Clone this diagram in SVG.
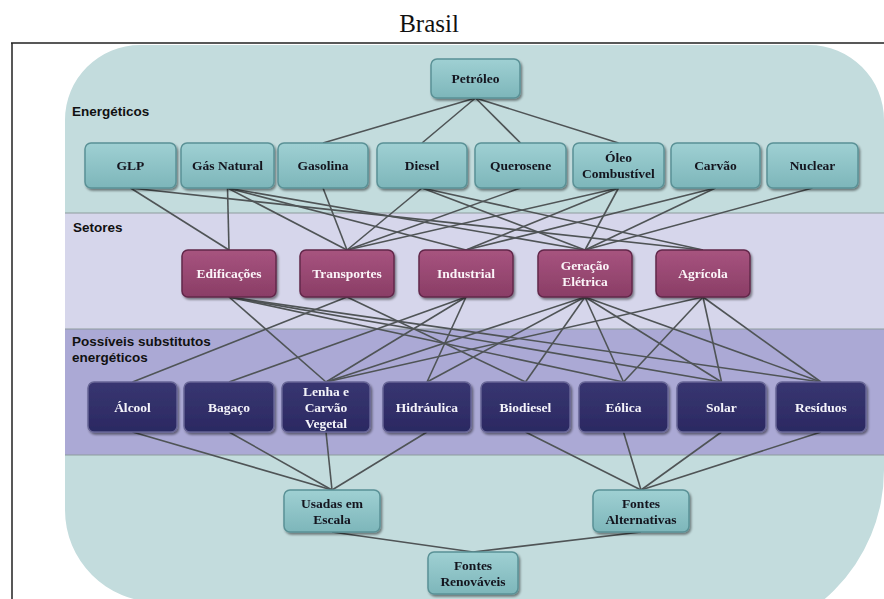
<svg xmlns="http://www.w3.org/2000/svg" width="884" height="599" viewBox="0 0 884 599">
<style>
.title{font-family:"Liberation Serif","Times New Roman",serif;font-size:25px;fill:#111}
.sec{font-family:"Liberation Sans",Arial,sans-serif;font-weight:bold;font-size:13.5px;fill:#111}
.lbl{font-family:"Liberation Serif","Times New Roman",serif;font-weight:bold;font-size:13.5px;text-anchor:middle}
.t rect{fill:url(#gT);stroke:#5a9196;stroke-width:1.5}
.t text{fill:#12131f}
.p rect{fill:url(#gP);stroke:#62284a;stroke-width:1.5}
.p text{fill:#fbf4f8}
.n rect{fill:url(#gN);stroke:#676696;stroke-width:1.5}
.n text{fill:#f4f4fa}
.node{filter:url(#sh)}
#connectors line{stroke:#4f5456;stroke-width:1.6}
</style>
<defs>
<linearGradient id="gT" x1="0" y1="0" x2="0" y2="1"><stop offset="0" stop-color="#9fd0d3"/><stop offset="1" stop-color="#7db6ba"/></linearGradient>
<linearGradient id="gP" x1="0" y1="0" x2="0" y2="1"><stop offset="0" stop-color="#a7547f"/><stop offset="1" stop-color="#8a3d66"/></linearGradient>
<linearGradient id="gN" x1="0" y1="0" x2="0" y2="1"><stop offset="0" stop-color="#383671"/><stop offset="1" stop-color="#2b2962"/></linearGradient>
<filter id="sh" x="-10%" y="-20%" width="130%" height="150%"><feDropShadow dx="1.5" dy="2" stdDeviation="1.2" flood-color="#000" flood-opacity="0.45"/></filter>
</defs>
<rect width="884" height="599" fill="#ffffff"/>
<text class="title" x="429" y="32" text-anchor="middle">Brasil</text>
<path d="M11,43 H884 M12,43 V599" fill="none" stroke="#222" stroke-width="1.5"/>
<path d="M65,120 A75,75 0 0 1 140,45 L809,45 A75,75 0 0 1 884,120 L884,470 A170,170 0 0 1 714,640 L157,640 L157,602 A92,92 0 0 1 65,510 Z" fill="#c3dcdd"/>
<rect x="65" y="213" width="819" height="116" fill="#d6d6eb"/>
<rect x="65" y="329" width="819" height="126" fill="#aba9d5"/>
<path d="M65,213 H884 M65,329 H884 M65,455 H884" stroke="#8d9b9d" stroke-width="1.2"/>
<text class="sec" x="72" y="116">Energéticos</text>
<text class="sec" x="73" y="232">Setores</text>
<text class="sec" x="72" y="346">Possíveis substitutos</text>
<text class="sec" x="72" y="362">energéticos</text>
<g id="connectors">
<line x1="475.5" y1="98" x2="323" y2="143"/>
<line x1="475.5" y1="98" x2="422" y2="143"/>
<line x1="475.5" y1="98" x2="520.5" y2="143"/>
<line x1="475.5" y1="98" x2="618.5" y2="143"/>
<line x1="130.5" y1="188" x2="229" y2="250"/>
<line x1="130.5" y1="188" x2="703" y2="250"/>
<line x1="227.5" y1="188" x2="229" y2="250"/>
<line x1="227.5" y1="188" x2="347" y2="250"/>
<line x1="227.5" y1="188" x2="466" y2="250"/>
<line x1="227.5" y1="188" x2="585" y2="250"/>
<line x1="323" y1="188" x2="347" y2="250"/>
<line x1="422" y1="188" x2="347" y2="250"/>
<line x1="422" y1="188" x2="585" y2="250"/>
<line x1="422" y1="188" x2="703" y2="250"/>
<line x1="520.5" y1="188" x2="347" y2="250"/>
<line x1="618.5" y1="188" x2="347" y2="250"/>
<line x1="618.5" y1="188" x2="466" y2="250"/>
<line x1="618.5" y1="188" x2="585" y2="250"/>
<line x1="715.5" y1="188" x2="466" y2="250"/>
<line x1="715.5" y1="188" x2="585" y2="250"/>
<line x1="812.5" y1="188" x2="585" y2="250"/>
<line x1="229" y1="297" x2="326" y2="382"/>
<line x1="229" y1="297" x2="623.5" y2="382"/>
<line x1="229" y1="297" x2="721.5" y2="382"/>
<line x1="229" y1="297" x2="821" y2="382"/>
<line x1="347" y1="297" x2="132.5" y2="382"/>
<line x1="347" y1="297" x2="525.5" y2="382"/>
<line x1="466" y1="297" x2="229" y2="382"/>
<line x1="466" y1="297" x2="326" y2="382"/>
<line x1="466" y1="297" x2="427" y2="382"/>
<line x1="585" y1="297" x2="326" y2="382"/>
<line x1="585" y1="297" x2="427" y2="382"/>
<line x1="585" y1="297" x2="525.5" y2="382"/>
<line x1="585" y1="297" x2="623.5" y2="382"/>
<line x1="585" y1="297" x2="721.5" y2="382"/>
<line x1="585" y1="297" x2="821" y2="382"/>
<line x1="703" y1="297" x2="326" y2="382"/>
<line x1="703" y1="297" x2="623.5" y2="382"/>
<line x1="703" y1="297" x2="721.5" y2="382"/>
<line x1="703" y1="297" x2="821" y2="382"/>
<line x1="132.5" y1="432" x2="332" y2="490"/>
<line x1="229" y1="432" x2="332" y2="490"/>
<line x1="326" y1="432" x2="332" y2="490"/>
<line x1="427" y1="432" x2="332" y2="490"/>
<line x1="525.5" y1="432" x2="641" y2="490"/>
<line x1="623.5" y1="432" x2="641" y2="490"/>
<line x1="721.5" y1="432" x2="641" y2="490"/>
<line x1="821" y1="432" x2="641" y2="490"/>
<line x1="332" y1="532" x2="473" y2="552"/>
<line x1="641" y1="532" x2="473" y2="552"/>
</g>
<g id="petroleo" class="node t"><rect x="431" y="59" width="89" height="39" rx="6"/><text class="lbl" x="475.5" y="83">Petróleo</text></g>
<g id="glp" class="node t"><rect x="85" y="143" width="91" height="45" rx="6"/><text class="lbl" x="130.5" y="170">GLP</text></g>
<g id="gas-natural" class="node t"><rect x="181" y="143" width="93" height="45" rx="6"/><text class="lbl" x="227.5" y="170">Gás Natural</text></g>
<g id="gasolina" class="node t"><rect x="278" y="143" width="90" height="45" rx="6"/><text class="lbl" x="323" y="170">Gasolina</text></g>
<g id="diesel" class="node t"><rect x="377" y="143" width="90" height="45" rx="6"/><text class="lbl" x="422" y="170">Diesel</text></g>
<g id="querosene" class="node t"><rect x="475" y="143" width="91" height="45" rx="6"/><text class="lbl" x="520.5" y="170">Querosene</text></g>
<g id="oleo" class="node t"><rect x="573" y="143" width="91" height="45" rx="6"/><text class="lbl" x="618.5" y="162">Óleo</text><text class="lbl" x="618.5" y="178">Combustível</text></g>
<g id="carvao" class="node t"><rect x="671" y="143" width="89" height="45" rx="6"/><text class="lbl" x="715.5" y="170">Carvão</text></g>
<g id="nuclear" class="node t"><rect x="767" y="143" width="91" height="45" rx="6"/><text class="lbl" x="812.5" y="170">Nuclear</text></g>
<g id="edificacoes" class="node p"><rect x="182" y="250" width="94" height="47" rx="6"/><text class="lbl" x="229" y="278">Edificações</text></g>
<g id="transportes" class="node p"><rect x="300" y="250" width="94" height="47" rx="6"/><text class="lbl" x="347" y="278">Transportes</text></g>
<g id="industrial" class="node p"><rect x="419" y="250" width="94" height="47" rx="6"/><text class="lbl" x="466" y="278">Industrial</text></g>
<g id="geracao" class="node p"><rect x="538" y="250" width="94" height="47" rx="6"/><text class="lbl" x="585" y="270">Geração</text><text class="lbl" x="585" y="286">Elétrica</text></g>
<g id="agricola" class="node p"><rect x="656" y="250" width="94" height="47" rx="6"/><text class="lbl" x="703" y="278">Agrícola</text></g>
<g id="alcool" class="node n"><rect x="88" y="382" width="89" height="50" rx="6"/><text class="lbl" x="132.5" y="411.5">Álcool</text></g>
<g id="bagaco" class="node n"><rect x="184" y="382" width="90" height="50" rx="6"/><text class="lbl" x="229" y="411.5">Bagaço</text></g>
<g id="lenha" class="node n"><rect x="282" y="382" width="88" height="50" rx="6"/><text class="lbl" x="326" y="395.5">Lenha e</text><text class="lbl" x="326" y="411.5">Carvão</text><text class="lbl" x="326" y="427.5">Vegetal</text></g>
<g id="hidraulica" class="node n"><rect x="383" y="382" width="88" height="50" rx="6"/><text class="lbl" x="427" y="411.5">Hidráulica</text></g>
<g id="biodiesel" class="node n"><rect x="481" y="382" width="89" height="50" rx="6"/><text class="lbl" x="525.5" y="411.5">Biodiesel</text></g>
<g id="eolica" class="node n"><rect x="579" y="382" width="89" height="50" rx="6"/><text class="lbl" x="623.5" y="411.5">Eólica</text></g>
<g id="solar" class="node n"><rect x="677" y="382" width="89" height="50" rx="6"/><text class="lbl" x="721.5" y="411.5">Solar</text></g>
<g id="residuos" class="node n"><rect x="776" y="382" width="90" height="50" rx="6"/><text class="lbl" x="821" y="411.5">Resíduos</text></g>
<g id="usadas" class="node t"><rect x="284" y="490" width="96" height="42" rx="6"/><text class="lbl" x="332" y="507.5">Usadas em</text><text class="lbl" x="332" y="523.5">Escala</text></g>
<g id="alternativas" class="node t"><rect x="593" y="490" width="96" height="42" rx="6"/><text class="lbl" x="641" y="507.5">Fontes</text><text class="lbl" x="641" y="523.5">Alternativas</text></g>
<g id="renovaveis" class="node t"><rect x="428" y="552" width="90" height="42" rx="6"/><text class="lbl" x="473" y="569.5">Fontes</text><text class="lbl" x="473" y="585.5">Renováveis</text></g>
</svg>
